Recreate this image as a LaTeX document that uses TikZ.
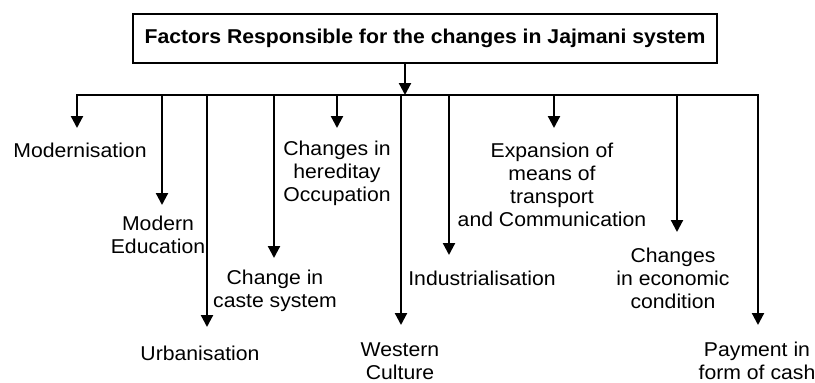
\documentclass[tikz,border=0pt]{standalone}
\usepackage{fontspec}
\setmainfont{Liberation Sans}[FakeStretch=1.06]
\usetikzlibrary{arrows.meta, positioning}

\begin{document}
\begin{tikzpicture}[x=1pt, y=-1pt,
	factor/.style={align=center, inner sep=0pt, font=\fontsize{20}{23}\selectfont},
	branch/.style={line width=2.2pt, -{Triangle[length=12pt, width=12pt]}}]
	\useasboundingbox (0,0) rectangle (815,383);
	
	% heading
	\node[draw, line width=2.2pt, minimum width=584pt, minimum height=49pt,
	font=\bfseries\fontsize{20}{23}\selectfont] (title) at (425,38.5)
	{Factors Responsible for the changes in Jajmani system};
	
	% factors
	\node[factor] (modern) at (80,150) {Modernisation};
	\node[factor] (edu) at (158,235) {Modern\\Education};
	\node[factor] (urban) at (200,353) {Urbanisation};
	\node[factor] (caste) at (275,291) {Change in\\caste system};
	\node[factor] (occup) at (337,173) {Changes in\\hereditay\\Occupation};
	\node[factor] (west) at (400,361) {Western\\Culture};
	\node[factor] (indus) at (482,278) {Industrialisation};
	\node[factor] (trans) at (552,185) {Expansion of\\means of\\transport\\and Communication};
	\node[factor] (econ) at (673,278) {Changes\\in economic\\condition};
	\node[factor] (cash) at (757,361) {Payment in\\form of cash};
	
	% bar and branches
	\coordinate (hub) at (405,95);
	\draw[branch] (title.south -| hub) -- (hub);
	\foreach \x/\tip [count=\i] in {77/128, 162/205, 207/327, 274/258, 337/128,
		401/325, 449/255, 554/128, 677/232, 758/325} {
		\coordinate (top\i) at (\x,95);
		\coordinate (tip\i) at (\x,\tip);
		\draw[branch] (top\i) -- (tip\i);
	}
	\draw[line width=2.2pt, line cap=rect] (top1) -- (top10);
	
\end{tikzpicture}
\end{document}
